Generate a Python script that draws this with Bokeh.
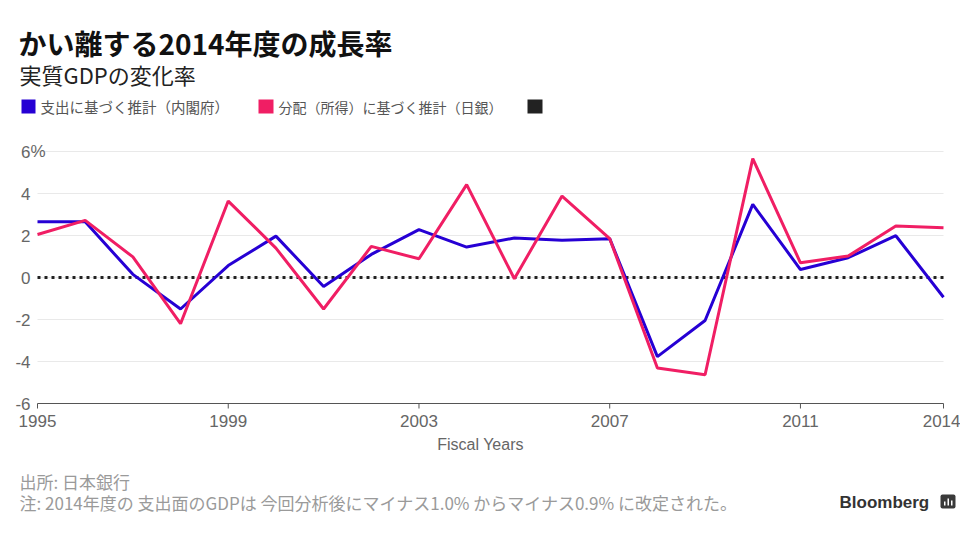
from bokeh.plotting import figure
from bokeh.layouts import column
from bokeh.models import Range1d, FixedTicker, Label, BoxAnnotation
from bokeh.core.properties import value
from bokeh.embed import file_html
from bokeh.resources import INLINE

# ---- data ----
years = list(range(1995, 2015))
expenditure = [2.65, 2.65, 0.15, -1.5, 0.57, 1.97, -0.43, 1.1, 2.28, 1.45,
               1.88, 1.77, 1.85, -3.77, -2.05, 3.48, 0.38, 0.94, 1.99, -0.94]
income = [2.05, 2.72, 0.98, -2.2, 3.64, 1.4, -1.5, 1.48, 0.89, 4.42,
          -0.06, 3.88, 1.85, -4.31, -4.63, 5.66, 0.7, 1.02, 2.45, 2.37]
x_ticks = [1995, 1999, 2003, 2007, 2011, 2014]
y_ticks = [-6, -4, -2, 0, 2, 4, 6]
y_tick_labels = ["-6", "-4", "-2", "0", "2", "4", "6"]
y_unit = "%"
zero_level = 0

title = "かい離する2014年度の成長率"
subtitle = "実質GDPの変化率"
legend_labels = ["支出に基づく推計（内閣府）", "分配（所得）に基づく推計（日銀）"]
source_note = "出所: 日本銀行"
footnote = "注: 2014年度の 支出面のGDPは 今回分析後にマイナス1.0% からマイナス0.9% に改定された。"

BLUE = "#2600d4"
RED = "#f01e64"
BLACK = "#222222"
GRAY = "#666666"
AXIS = "#555555"
JP = "Noto Sans CJK JP"
LAT = "Liberation Sans"

W = 960
HEAD_H = 136          # header strip height
MAIN_BOTTOM = 465     # page y where the main figure ends
TOTAL_H = 520
PLOT_L, PLOT_R = 37, 943     # page x of first / last year
PLOT_T, PLOT_B = 151, 403    # page y of top / bottom y tick
FRAME_EXTRA_B = 10           # frame extends below the baseline so "-6" is not clipped
TICK_LEN = 5


def blank(h, y0, y1):
    f = figure(width=W, height=h, output_backend="svg", toolbar_location=None,
               x_range=Range1d(0, W), y_range=Range1d(y1, y0),
               x_axis_location=None, y_axis_location=None,
               min_border=0)
    f.grid.visible = False
    f.outline_line_color = None
    f.background_fill_color = "white"
    f.border_fill_color = "white"
    return f


def lab(f, text, px, py, size, color, font=JP, style="normal", align="left"):
    f.add_layout(Label(x=px, y=py, text=text, text_font=font, text_font_size=size,
                       text_color=color, text_font_style=style, text_align=align,
                       text_baseline="middle"))


def box(f, x0, y0, x1, y1, color, radius=0):
    f.add_layout(BoxAnnotation(left=x0, right=x1, top=y0, bottom=y1,
                               fill_color=color, fill_alpha=1, line_color=None,
                               border_radius=radius))


# ---------------- header ----------------
head = blank(HEAD_H, 0, HEAD_H)
lab(head, title, 18, 42, "28px", "#111111", style="bold")
lab(head, subtitle, 19, 73, "22px", "#222222")
box(head, 21, 99, 35, 113, BLUE)
lab(head, legend_labels[0], 40, 106, "14.5px", "#555555")
box(head, 258, 99, 273, 113, RED)
lab(head, legend_labels[1], 278, 106, "14px", "#555555")
box(head, 527, 99, 542, 113, BLACK)

# ---------------- main chart ----------------
main_h = MAIN_BOTTOM - HEAD_H
px_per_year = (PLOT_R - PLOT_L) / (x_ticks[-1] - x_ticks[0])
px_per_unit = (PLOT_B - PLOT_T) / (y_ticks[-1] - y_ticks[0])
xr = Range1d(x_ticks[0] - PLOT_L / px_per_year, x_ticks[-1] + (W - PLOT_R) / px_per_year)
yr = Range1d(y_ticks[0] - FRAME_EXTRA_B / px_per_unit,
             y_ticks[-1] + (PLOT_T - HEAD_H) / px_per_unit)

p = figure(width=W, height=main_h, output_backend="svg", toolbar_location=None,
           x_range=xr, y_range=yr, y_axis_location=None,
           min_border_left=0, min_border_right=0, min_border_top=0,
           min_border_bottom=MAIN_BOTTOM - PLOT_B - FRAME_EXTRA_B)
p.outline_line_color = None
p.background_fill_color = "white"
p.border_fill_color = "white"
p.grid.visible = False

p.xaxis.ticker = FixedTicker(ticks=x_ticks)
p.xaxis.bounds = (years[0], years[-1])
p.xaxis.axis_line_color = None
p.xaxis.major_tick_line_color = None
p.xaxis.major_tick_out = 0
p.xaxis.major_tick_in = 0
p.xaxis.minor_tick_line_color = None
p.xaxis.minor_tick_out = 0
p.xaxis.major_label_text_font = LAT
p.xaxis.major_label_text_font_size = "17px"
p.xaxis.major_label_text_color = GRAY
p.xaxis.major_label_standoff = 1
p.xaxis.axis_label = "Fiscal Years"
p.xaxis.axis_label_text_font = LAT
p.xaxis.axis_label_text_font_size = "16px"
p.xaxis.axis_label_text_font_style = "normal"
p.xaxis.axis_label_text_color = GRAY
p.xaxis.axis_label_standoff = 6

# horizontal grid lines (between first and last year)
grid_y = y_ticks[1:]
p.segment(x0=[years[0]] * len(grid_y), x1=[years[-1]] * len(grid_y),
          y0=grid_y, y1=grid_y, line_color="#e9e9e9", line_width=1)

# baseline (x axis line) and its tick marks
p.segment(x0=[years[0]], x1=[years[-1]], y0=[y_ticks[0]], y1=[y_ticks[0]],
          line_color=AXIS, line_width=1)
tick_bottom = y_ticks[0] - TICK_LEN / px_per_unit
p.segment(x0=x_ticks, x1=x_ticks, y0=[y_ticks[0]] * len(x_ticks),
          y1=[tick_bottom] * len(x_ticks), line_color=AXIS, line_width=1)

# y tick labels
p.text(x=[years[0]] * len(y_ticks), y=y_ticks, text=y_tick_labels,
       x_offset=-7, text_align="right", text_baseline="middle",
       text_font=value(LAT), text_font_size=value("17px"), text_color=GRAY)
p.text(x=[years[0]], y=[y_ticks[-1]], text=[y_unit],
       x_offset=-7, text_align="left", text_baseline="middle",
       text_font=value(LAT), text_font_size=value("17px"), text_color=GRAY)

# zero line
p.segment(x0=[years[0]], x1=[years[-1]], y0=[zero_level], y1=[zero_level],
          line_color=BLACK, line_width=3, line_dash="3 4")

# series
p.line(years, expenditure, line_color=BLUE, line_width=3)
p.line(years, income, line_color=RED, line_width=3)

# ---------------- footer ----------------
foot = blank(TOTAL_H - MAIN_BOTTOM, MAIN_BOTTOM, TOTAL_H)
lab(foot, source_note, 19, 481, "17px", "#9a9a9a")
lab(foot, footnote, 19, 502, "17px", "#9a9a9a")
lab(foot, "Bloomberg", 839, 502, "17px", "#333333", font=LAT, style="bold")
box(foot, 940, 494, 955, 508, "#3a3a3a", radius=2)
box(foot, 943.5, 501, 945, 505, "white")
box(foot, 947, 498, 948.5, 505, "white")
box(foot, 950.5, 500, 952, 505, "white")

layout = column(head, p, foot, spacing=0)
open("out.html", "w").write(file_html(layout, INLINE))
